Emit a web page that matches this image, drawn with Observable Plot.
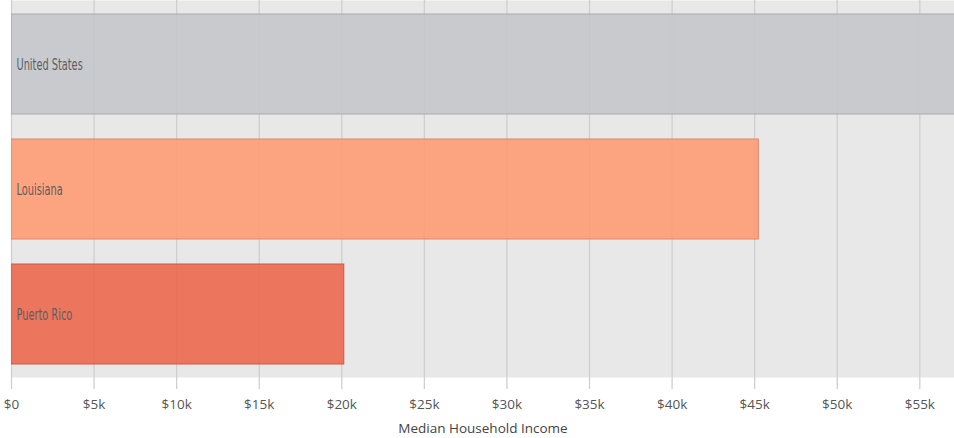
<!DOCTYPE html>
<html>
<head>
<meta charset="utf-8">
<script src="https://cdn.jsdelivr.net/npm/d3@7"></script>
<script src="https://cdn.jsdelivr.net/npm/@observablehq/plot@0.6"></script>
<style>
  html, body { margin: 0; padding: 0; background: #fff; }
  #chart svg { display: block; }
  .barlabel text { font-stretch: condensed; }
</style>
</head>
<body>
<div id="chart"></div>
<script>
const places = ["United States", "Louisiana", "Puerto Rico"];
const incomes = [57652, 45250, 20150];
const colors = ["#c6c7cb", "#fd9c76", "#eb6a51"];
const strokes = ["#a9aaae", "#e0866a", "#cc5a45"];
const tickValues = [0, 5000, 10000, 15000, 20000, 25000, 30000, 35000, 40000, 45000, 50000, 55000];
const tickLabels = ["$0", "$5k", "$10k", "$15k", "$20k", "$25k", "$30k", "$35k", "$40k", "$45k", "$50k", "$55k"];

const data = places.map((p, i) => ({place: p, income: incomes[i], fill: colors[i], stroke: strokes[i]}));

const chart = Plot.plot({
  width: 954,
  height: 438,
  marginLeft: 11,
  marginRight: 0,
  marginTop: 0,
  marginBottom: 61,
  style: {background: "#fff", fontFamily: "'Open Sans', sans-serif"},
  x: {domain: [0, 57100], label: null},
  y: {domain: places, paddingInner: 0.2, paddingOuter: 0.108, axis: null},
  marks: [
    Plot.frame({fill: "#e8e8e8", stroke: null}),
    Plot.gridX(tickValues, {stroke: "#cfcfcf", strokeOpacity: 1, strokeWidth: 1.3}),
    Plot.barX(data, {y: "place", x: "income", fill: "fill", stroke: "stroke", strokeWidth: 1, fillOpacity: 0.92, clip: true}),
    Plot.text(data, {y: "place", x: 0, text: "place", dx: 5, textAnchor: "start", className: "barlabel",
      fill: "#5e5e5e", fontSize: 16, fontFamily: "'DejaVu Sans', sans-serif"}),
    Plot.axisX(tickValues, {tickFormat: (d) => tickLabels[tickValues.indexOf(d)], tickSize: 12, tickPadding: 10,
      stroke: "#cfcfcf", strokeWidth: 1.3, fill: "#555", fontSize: 13.5, label: null}),
    Plot.text(["Median Household Income"], {frameAnchor: "bottom", dy: 55, fill: "#444", fontSize: 13.5})
  ]
});
document.getElementById("chart").appendChild(chart);

// squeeze bar labels horizontally to mimic the narrow typeface
const labels = chart.querySelectorAll(".barlabel text");
labels.forEach((t) => {
  const x = +t.getAttribute("x") || 0;
  const s = 0.68;
  t.setAttribute("transform", (t.getAttribute("transform") || "") + ` translate(${x},0) scale(${s},1) translate(${-x},0)`);
});
</script>
</body>
</html>
